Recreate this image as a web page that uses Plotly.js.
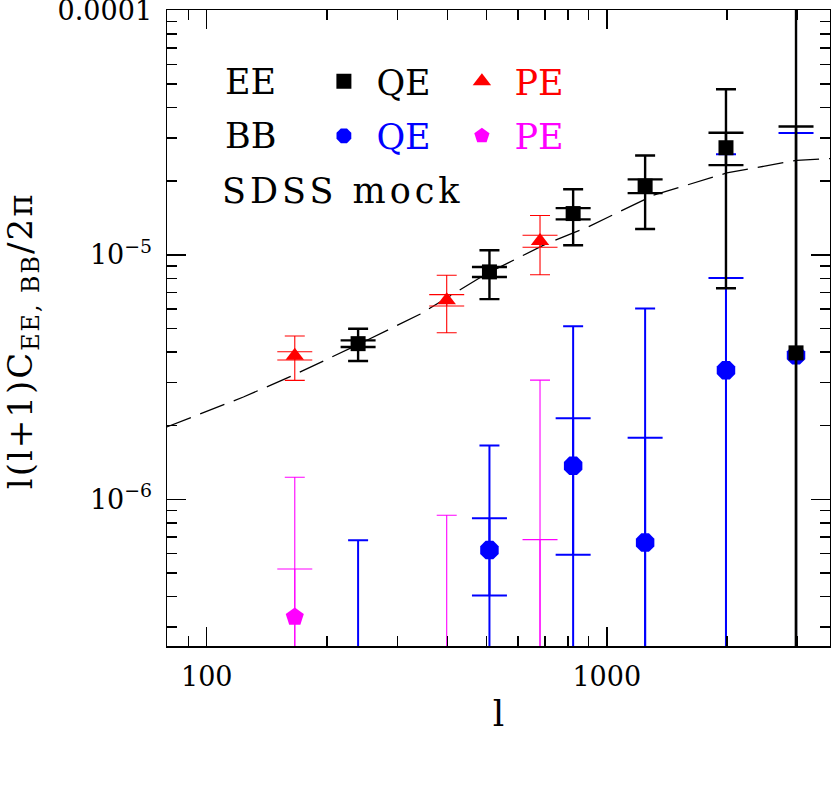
<!DOCTYPE html>
<html>
<head>
<meta charset="utf-8">
<script src="https://cdn.plot.ly/plotly-3.0.1.min.js"></script>
<style>
  html, body { margin: 0; padding: 0; background: #ffffff; }
  #chart { width: 831px; height: 785px; }
  .ytitle { letter-spacing: 2px; }
  .annotation[data-index="2"] .annotation-text { letter-spacing: 4px; }
</style>
</head>
<body>
<div id="chart"></div>
<script>
// ---------- data ----------
// EE, quadratic estimator (QE)
const eeQE_l = [239, 509, 824, 1247, 1986, 2972];
const eeQE_C = [4.33e-6, 8.51e-6, 1.474e-5, 1.91e-5, 2.74e-5, 3.97e-6];
const eeQE_err = [0.655e-6, 1.925e-6, 3.795e-6, 6.35e-6, 2.01e-5, 1.1e-4];
const eeQE_errInner = [0.135e-6, 0.40e-6, 0.78e-6, 1.23e-6, 4.15e-6, 2.95e-5];

// EE, pseudo estimator (PE)
const eePE_l = [166, 398, 681];
const eePE_C = [3.86e-6, 6.52e-6, 1.138e-5];
const eePE_err = [0.795e-6, 1.725e-6, 3.1e-6];
const eePE_errInner = [0.15e-6, 0.35e-6, 0.645e-6];

// BB, quadratic estimator (QE)
const bbQE_l = [239, 509, 824, 1247, 1986, 2972];
const bbQE_C = [1.8e-7, 6.2e-7, 1.37e-6, 6.65e-7, 3.37e-6, 3.88e-6];
const bbQE_err = [5.0e-7, 1.04e-6, 3.73e-6, 5.37e-6, 2.24e-5, 1.1e-4];
const bbQE_errInner = [null, 2.16e-7, 0.777e-6, 1.12e-6, 4.67e-6, 2.76e-5];

// BB, pseudo estimator (PE)
const bbPE_l = [166, 398, 681];
const bbPE_C = [3.30e-7, 1.5e-7, 2.0e-7];
const bbPE_err = [9.0e-7, 7.1e-7, 2.87e-6];
const bbPE_errInner = [1.89e-7, null, 4.84e-7];

// model EE spectrum (dashed curve)
const model_l = [79.4, 123.5, 164.6, 241.5, 341, 501, 708, 891, 1308, 1995, 2985, 3637];
const model_C = [1.975e-6, 2.62e-6, 3.215e-6, 4.33e-6, 5.71e-6, 8.38e-6, 1.111e-5, 1.292e-5, 1.751e-5, 2.161e-5, 2.434e-5, 2.474e-5];

// axis ticks
const xTickVals = [100, 1000];
const xTickText = ['100', '1000'];
const yTickVals = [1e-6, 1e-5, 1e-4];
const yTickText = ['10<sup>−6</sup>', '10<sup>−5</sup>', '0.0001'];

// ---------- build ----------
const SERIF = 'DejaVu Serif';

function minorTicks(lo, hi) {
  const out = [];
  for (let e = Math.floor(Math.log10(lo)); e <= Math.ceil(Math.log10(hi)); e++) {
    for (let m = 2; m <= 9; m++) {
      const v = m * Math.pow(10, e);
      if (v >= lo && v <= hi) out.push(v);
    }
  }
  return out;
}

function series(opts) {
  const main = {
    type: 'scatter', mode: 'markers',
    x: opts.l, y: opts.C,
    name: opts.name, legend: opts.legend, legendrank: opts.rank,
    marker: { color: opts.color, symbol: opts.symbol, size: opts.size, line: { width: 0 } },
    error_y: { type: 'data', array: opts.err, visible: true, color: opts.color,
               thickness: opts.lw, width: 10 },
    hoverinfo: 'x+y'
  };
  const inner = {
    type: 'scatter', mode: 'markers',
    x: opts.l, y: opts.C,
    showlegend: false,
    marker: { color: opts.color, size: 1, opacity: 0 },
    error_y: { type: 'data', array: opts.errInner, visible: true, color: opts.color,
               thickness: opts.lw, width: 17.5 },
    hoverinfo: 'skip'
  };
  return [main, inner];
}

const traces = [];
traces.push({
  type: 'scatter', mode: 'lines', x: model_l, y: model_C, showlegend: false,
  line: { color: 'black', width: 1.3, dash: '26px,10px' }, hoverinfo: 'skip'
});
traces.push(...series({ l: bbPE_l, C: bbPE_C, err: bbPE_err, errInner: bbPE_errInner,
  color: '#ff00ff', symbol: 'pentagon', size: 19, lw: 1.1,
  name: '<span style="color:#ff00ff">PE</span>', legend: 'legend2', rank: 2 }));
traces.push(...series({ l: bbQE_l, C: bbQE_C, err: bbQE_err, errInner: bbQE_errInner,
  color: '#0000ff', symbol: 'octagon', size: 20, lw: 2,
  name: '<span style="color:#0000ff">QE</span>', legend: 'legend2', rank: 1 }));
traces.push(...series({ l: eePE_l, C: eePE_C, err: eePE_err, errInner: eePE_errInner,
  color: '#ff0000', symbol: 'triangle-up', size: 16, lw: 1.1,
  name: '<span style="color:#ff0000">PE</span>', legend: 'legend', rank: 2 }));
traces.push(...series({ l: eeQE_l, C: eeQE_C, err: eeQE_err, errInner: eeQE_errInner,
  color: '#000000', symbol: 'square', size: 15, lw: 2.4,
  name: 'QE', legend: 'legend', rank: 1 }));

const legendCommon = {
  orientation: 'h', xanchor: 'left', yanchor: 'middle',
  bgcolor: 'rgba(0,0,0,0)', borderwidth: 0,
  font: { family: SERIF, size: 35, color: 'black' },
  itemwidth: 55, entrywidth: 68, itemclick: false, itemdoubleclick: false
};

const layout = {
  width: 831, height: 785,
  margin: { l: 167, r: 1, t: 10, b: 139, pad: 0 },
  paper_bgcolor: '#ffffff', plot_bgcolor: '#ffffff',
  font: { family: SERIF, color: 'black' },
  showlegend: true,
  legend: Object.assign({}, legendCommon, { x: 0.2178, y: 0.8875 }),
  legend2: Object.assign({}, legendCommon, { x: 0.2178, y: 0.8018 }),
  xaxis: {
    type: 'log', range: [1.9007, 3.558], autorange: false,
    showline: true, linecolor: 'black', linewidth: 1.5, mirror: 'allticks',
    ticks: 'inside', ticklen: 19, tickwidth: 1.5, tickcolor: 'black',
    tickmode: 'array', tickvals: xTickVals, ticktext: xTickText,
    tickfont: { family: SERIF, size: 27, color: 'black' },
    ticklabelstandoff: 6, ticklabeloverflow: 'allow',
    minor: { tickmode: 'array', tickvals: minorTicks(75, 4000), ticks: 'inside', ticklen: 10,
             tickwidth: 1.5, tickcolor: 'black', showgrid: false },
    showgrid: false, zeroline: false, automargin: false,
    title: { text: 'l', font: { family: SERIF, size: 36, color: 'black' }, standoff: 10 }
  },
  yaxis: {
    type: 'log', range: [-6.6, -3.999], autorange: false,
    showline: true, linecolor: 'black', linewidth: 1.5, mirror: 'allticks',
    ticks: 'inside', ticklen: 19, tickwidth: 1.5, tickcolor: 'black',
    tickmode: 'array', tickvals: yTickVals, ticktext: yTickText,
    tickfont: { family: SERIF, size: 27, color: 'black' },
    ticklabelstandoff: 8, ticklabeloverflow: 'allow',
    minor: { tickmode: 'array', tickvals: minorTicks(2e-7, 1e-4), ticks: 'inside', ticklen: 10,
             tickwidth: 1.5, tickcolor: 'black', showgrid: false },
    showgrid: false, zeroline: false, automargin: false,
    title: { text: 'l(l+1)C<sub>EE, BB</sub>/2π&nbsp;&nbsp;', font: { family: SERIF, size: 34, color: 'black' }, standoff: 47 }
  },
  annotations: [
    { text: 'EE', xref: 'paper', yref: 'paper', x: 0.0845, y: 0.8875, xanchor: 'left', yanchor: 'middle',
      showarrow: false, font: { family: SERIF, size: 35, color: 'black' } },
    { text: 'BB', xref: 'paper', yref: 'paper', x: 0.0845, y: 0.8018, xanchor: 'left', yanchor: 'middle',
      showarrow: false, font: { family: SERIF, size: 35, color: 'black' } },
    { text: 'SDSS mock', xref: 'paper', yref: 'paper', x: 0.2655, y: 0.7153, xanchor: 'center', yanchor: 'middle',
      showarrow: false, font: { family: SERIF, size: 35, color: 'black' } }
  ]
};

Plotly.newPlot('chart', traces, layout, { staticPlot: true, displayModeBar: false });
</script>
</body>
</html>
